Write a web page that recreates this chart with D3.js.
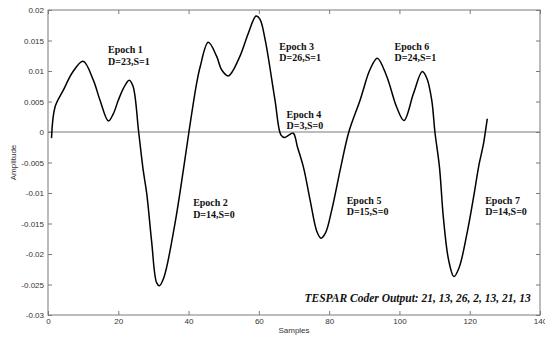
<!DOCTYPE html>
<html>
<head>
<meta charset="utf-8">
<script src="https://cdn.jsdelivr.net/npm/d3@7"></script>
<style>
  html, body { margin: 0; padding: 0; background: #fff; }
  svg { display: block; }
</style>
</head>
<body>
<svg id="chart" width="545" height="339"></svg>
<script>
// ---- Data ----
const samples = [1, 2, 4.4, 7, 10, 12.9, 14.8, 17.2, 18.6, 20, 21.5, 23.1, 24.2, 25.8, 27.1, 28.1, 29.5, 30.9, 31.7, 33, 36.1, 38.5, 40.1, 42.3, 43.3, 45.6, 48, 49.4, 51.3, 54.6, 57, 59.2, 60.3, 61.8, 64.6, 66.3, 67.4, 68.5, 69.8, 71, 72.7, 74.6, 76.5, 77.7, 79, 80.7, 83.3, 85.6, 88.8, 89.7, 91.6, 93.7, 96.4, 99.2, 101.3, 104, 106.5, 107.8, 109.2, 110.1, 111.4, 112.5, 114, 115.5, 117, 119.2, 121, 122.7, 123.9, 125];
const amplitude = [-0.001, 0.0041, 0.0069, 0.0098, 0.0116, 0.0085, 0.0052, 0.0018, 0.003, 0.0052, 0.0072, 0.0085, 0.0075, 0, -0.0063, -0.0101, -0.018, -0.0247, -0.0252, -0.0238, -0.0151, -0.0063, 0, 0.008, 0.0107, 0.0147, 0.0124, 0.0102, 0.0092, 0.0124, 0.0162, 0.019, 0.0185, 0.0151, 0.0052, -0.0005, -0.0009, -0.0005, -0.0002, -0.0025, -0.0058, -0.0112, -0.0163, -0.0174, -0.0165, -0.0129, -0.0058, 0, 0.0052, 0.0069, 0.0102, 0.0121, 0.0091, 0.0041, 0.0019, 0.0063, 0.0099, 0.0088, 0.0052, 0, -0.0058, -0.014, -0.021, -0.0237, -0.0222, -0.0167, -0.011, -0.0052, -0.002, 0.0022];

const xTicks = [0, 20, 40, 60, 80, 100, 120, 140];
const xTickLabels = ["0", "20", "40", "60", "80", "100", "120", "140"];
const yTicks = [0.02, 0.015, 0.01, 0.005, 0, -0.005, -0.01, -0.015, -0.02, -0.025, -0.03];
const yTickLabels = ["0.02", "0.015", "0.01", "0.005", "0", "-0.005", "-0.01", "-0.015", "-0.02", "-0.025", "-0.03"];

const epochNames = ["Epoch 1", "Epoch 2", "Epoch 3", "Epoch 4", "Epoch 5", "Epoch 6", "Epoch 7"];
const epochCodes = ["D=23,S=1", "D=14,S=0", "D=26,S=1", "D=3,S=0", "D=15,S=0", "D=24,S=1", "D=14,S=0"];
// anchor of each annotation in data units (sample, amplitude of first baseline)
const epochX = [17.1, 41.3, 65.8, 67.9, 85, 98.6, 124.4];
const epochY = [0.0129, -0.0122, 0.0135, 0.0023, -0.0118, 0.0135, -0.0118];

const coderText = "TESPAR Coder Output: 21, 13, 26, 2, 13, 21, 13";
const xLabel = "Samples";
const yLabel = "Amplitude";

// ---- Layout ----
const svg = d3.select("#chart");
const L = 48, R = 540, T = 10, B = 315;

const x = d3.scaleLinear().domain([0, 140]).range([L, R]);
const y = d3.scaleLinear().domain([-0.03, 0.02]).range([B, T]);

const frameColor = "#7a7a7a";
const textColor = "#333";

// zero line
svg.append("line")
  .attr("x1", x(0)).attr("x2", x(140))
  .attr("y1", y(0)).attr("y2", y(0))
  .attr("stroke", frameColor).attr("stroke-width", 1);

// axes (MATLAB style, inward ticks on all four sides)
function styleAxis(g) {
  g.select(".domain").remove();
  g.selectAll(".tick line").attr("stroke", frameColor);
  g.selectAll(".tick text")
    .attr("fill", textColor)
    .style("font-family", "'Liberation Sans', Arial, sans-serif")
    .style("font-size", "8px");
}

svg.append("g").attr("transform", `translate(0,${B})`)
  .call(d3.axisBottom(x).tickValues(xTicks).tickSizeInner(-4).tickSizeOuter(0).tickPadding(3)
    .tickFormat((d, i) => xTickLabels[i]))
  .call(styleAxis);
svg.append("g").attr("transform", `translate(0,${T})`)
  .call(d3.axisTop(x).tickValues(xTicks).tickSizeInner(-4).tickSizeOuter(0).tickFormat(""))
  .call(styleAxis);
svg.append("g").attr("transform", `translate(${L},0)`)
  .call(d3.axisLeft(y).tickValues(yTicks).tickSizeInner(-4).tickSizeOuter(0).tickPadding(4)
    .tickFormat((d, i) => yTickLabels[i]))
  .call(styleAxis);
svg.append("g").attr("transform", `translate(${R},0)`)
  .call(d3.axisRight(y).tickValues(yTicks).tickSizeInner(-4).tickSizeOuter(0).tickFormat(""))
  .call(styleAxis);

// frame
svg.append("rect")
  .attr("x", L).attr("y", T).attr("width", R - L).attr("height", B - T)
  .attr("fill", "none").attr("stroke", frameColor).attr("stroke-width", 1);

// curve
const pts = samples.map((s, i) => [s, amplitude[i]]);
const line = d3.line().x(d => x(d[0])).y(d => y(d[1])).curve(d3.curveCatmullRom.alpha(0.5));
svg.append("path").datum(pts)
  .attr("d", line)
  .attr("fill", "none").attr("stroke", "#000").attr("stroke-width", 1.5)
  .attr("stroke-linejoin", "round");

// annotations
const ann = svg.append("g")
  .style("font-family", "'Liberation Serif', 'Times New Roman', serif")
  .style("font-weight", "bold")
  .style("font-size", "10px")
  .attr("fill", "#111");
epochNames.forEach((name, i) => {
  const t = ann.append("text").attr("x", x(epochX[i])).attr("y", y(epochY[i]));
  t.append("tspan").attr("x", x(epochX[i])).text(name);
  t.append("tspan").attr("x", x(epochX[i])).attr("dy", 11.5).text(epochCodes[i]);
});

svg.append("text")
  .attr("x", x(73)).attr("y", y(-0.0279))
  .style("font-family", "'Liberation Serif', 'Times New Roman', serif")
  .style("font-weight", "bold").style("font-style", "italic")
  .style("font-size", "11.5px")
  .attr("fill", "#111")
  .text(coderText);

// axis titles
svg.append("text")
  .attr("x", (L + R) / 2 + 0).attr("y", 333)
  .attr("text-anchor", "middle")
  .style("font-family", "'Liberation Sans', Arial, sans-serif").style("font-size", "8px")
  .attr("fill", textColor)
  .text(xLabel);
svg.append("text")
  .attr("transform", `translate(16,${(T + B) / 2}) rotate(-90)`)
  .attr("text-anchor", "middle")
  .style("font-family", "'Liberation Sans', Arial, sans-serif").style("font-size", "8px")
  .attr("fill", textColor)
  .text(yLabel);
</script>
</body>
</html>
